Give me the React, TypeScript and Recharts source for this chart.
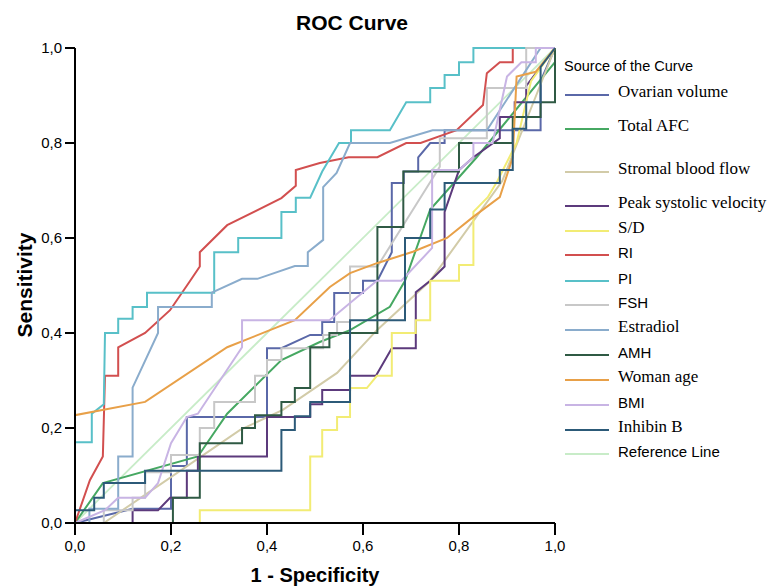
import React from "react";
import { LineChart, Line, XAxis, YAxis } from "recharts";

document.body.style.margin = "0";

type Pt = [number, number];

const ticks = [0, 0.2, 0.4, 0.6, 0.8, 1.0];

const referenceLine: Pt[] = [[0, 0], [1, 1]];

const ovarianVolume: Pt[] = [
  [0, 0], [0.12, 0.03], [0.2, 0.03], [0.2, 0.12], [0.233, 0.12], [0.233, 0.223], [0.4, 0.223],
  [0.4, 0.3], [0.4, 0.368], [0.43, 0.368], [0.49, 0.396], [0.515, 0.396], [0.515, 0.423],
  [0.54, 0.423], [0.54, 0.484], [0.6, 0.484], [0.6, 0.51], [0.63, 0.51], [0.66, 0.57],
  [0.66, 0.716], [0.685, 0.716], [0.685, 0.74], [0.715, 0.74], [0.715, 0.77], [0.74, 0.8],
  [0.77, 0.8], [0.77, 0.827], [0.97, 0.827], [0.97, 0.93], [1, 1],
];

const totalAFC: Pt[] = [
  [0, 0], [0.058, 0.084], [0.256, 0.14], [0.317, 0.23], [0.43, 0.343], [0.51, 0.381],
  [0.573, 0.406], [0.656, 0.455], [0.6875, 0.51], [0.74, 0.66], [0.837, 0.77], [1, 0.97], [1, 1],
];

const stromalBloodFlow: Pt[] = [
  [0, 0], [0.06, 0], [0.344, 0.196], [0.433, 0.238], [0.546, 0.316], [0.629, 0.406],
  [0.74, 0.51], [0.89, 0.72], [1, 1],
];

const peakSystolic: Pt[] = [
  [0, 0], [0.12, 0], [0.12, 0.027], [0.173, 0.027], [0.198, 0.053], [0.233, 0.053],
  [0.233, 0.11], [0.256, 0.11], [0.256, 0.14], [0.4, 0.14], [0.4, 0.223], [0.49, 0.223],
  [0.49, 0.25], [0.515, 0.25], [0.515, 0.28], [0.573, 0.28], [0.573, 0.31], [0.627, 0.31],
  [0.66, 0.368], [0.71, 0.368], [0.71, 0.486], [0.74, 0.51], [0.77, 0.54], [0.77, 0.655],
  [0.8, 0.743], [0.83, 0.77], [0.885, 0.81], [0.885, 0.855], [0.916, 0.855], [0.916, 0.886],
  [0.94, 0.886], [0.94, 0.92], [1, 1],
];

const sdRatio: Pt[] = [
  [0, 0], [0.26, 0], [0.26, 0.027], [0.49, 0.027], [0.49, 0.14], [0.515, 0.14], [0.515, 0.196],
  [0.546, 0.196], [0.546, 0.223], [0.573, 0.223], [0.573, 0.284], [0.608, 0.284], [0.629, 0.31],
  [0.66, 0.31], [0.66, 0.4], [0.71, 0.4], [0.71, 0.427], [0.74, 0.427], [0.74, 0.51],
  [0.8, 0.51], [0.8, 0.543], [0.83, 0.543], [0.83, 0.655], [0.86, 0.686], [0.88, 0.72],
  [0.92, 0.8], [0.95, 0.93], [1, 1],
];

const ri: Pt[] = [
  [0, 0], [0.031, 0.09], [0.058, 0.14], [0.0625, 0.31], [0.09, 0.31], [0.09, 0.37],
  [0.146, 0.4], [0.198, 0.448], [0.24, 0.51], [0.26, 0.54], [0.26, 0.57], [0.317, 0.627],
  [0.43, 0.684], [0.46, 0.71], [0.46, 0.743], [0.51, 0.758], [0.57, 0.77], [0.63, 0.77],
  [0.69, 0.8], [0.72, 0.8], [0.795, 0.827], [0.85, 0.88], [0.858, 0.947], [0.885, 0.97],
  [0.912, 0.97], [0.912, 1], [1, 1],
];

const pi: Pt[] = [
  [0, 0], [0, 0.17], [0.035, 0.17], [0.035, 0.23], [0.06, 0.25], [0.0625, 0.4], [0.09, 0.4],
  [0.09, 0.43], [0.12, 0.43], [0.12, 0.455], [0.15, 0.455], [0.15, 0.485], [0.29, 0.485],
  [0.29, 0.57], [0.34, 0.57], [0.34, 0.6], [0.43, 0.6], [0.43, 0.655], [0.46, 0.655],
  [0.46, 0.685], [0.49, 0.685], [0.515, 0.74], [0.55, 0.8], [0.575, 0.8], [0.575, 0.827],
  [0.656, 0.827], [0.69, 0.886], [0.74, 0.886], [0.74, 0.916], [0.77, 0.916], [0.77, 0.943],
  [0.8, 0.943], [0.8, 0.97], [0.83, 0.97], [0.83, 1], [1, 1],
];

const fsh: Pt[] = [
  [0, 0], [0.06, 0], [0.06, 0.027], [0.12, 0.027], [0.12, 0.053], [0.146, 0.053],
  [0.146, 0.107], [0.2, 0.107], [0.2, 0.143], [0.26, 0.143], [0.26, 0.2], [0.29, 0.2],
  [0.29, 0.255], [0.375, 0.255], [0.375, 0.31], [0.4, 0.31], [0.4, 0.343], [0.43, 0.343],
  [0.43, 0.368], [0.517, 0.368], [0.517, 0.396], [0.546, 0.396], [0.546, 0.423],
  [0.573, 0.423], [0.573, 0.54], [0.63, 0.54], [0.76, 0.75], [0.76, 0.81], [0.858, 0.81],
  [0.858, 0.916], [0.94, 0.916], [0.94, 1], [1, 1],
];

const estradiol: Pt[] = [
  [0, 0], [0.03, 0], [0.03, 0.03], [0.09, 0.03], [0.09, 0.14], [0.12, 0.14], [0.12, 0.285],
  [0.173, 0.4], [0.173, 0.455], [0.285, 0.455], [0.285, 0.485], [0.348, 0.514], [0.38, 0.514],
  [0.458, 0.541], [0.485, 0.541], [0.485, 0.57], [0.517, 0.596], [0.517, 0.707],
  [0.545, 0.737], [0.573, 0.8], [0.656, 0.8], [0.745, 0.827], [0.858, 0.827], [0.97, 1], [1, 1],
];

const amh: Pt[] = [
  [0, 0], [0.204, 0], [0.204, 0.053], [0.26, 0.053], [0.26, 0.168], [0.348, 0.168],
  [0.348, 0.2], [0.375, 0.2], [0.375, 0.227], [0.43, 0.227], [0.43, 0.255], [0.458, 0.255],
  [0.458, 0.284], [0.49, 0.284], [0.49, 0.37], [0.53, 0.37], [0.53, 0.4], [0.63, 0.4],
  [0.63, 0.623], [0.684, 0.623], [0.684, 0.74], [0.8, 0.74], [0.8, 0.8], [0.912, 0.8],
  [0.912, 0.855], [0.97, 0.855], [0.97, 0.886], [1, 0.886], [1, 1],
];

const womanAge: Pt[] = [
  [0, 0], [0, 0.227], [0.146, 0.255], [0.317, 0.37], [0.458, 0.427], [0.531, 0.497],
  [0.573, 0.526], [0.629, 0.547], [0.704, 0.571], [0.775, 0.6], [0.829, 0.644],
  [0.885, 0.686], [0.912, 0.77], [0.92, 0.94], [0.96, 0.95], [1, 1],
];

const bmi: Pt[] = [
  [0, 0], [0.0625, 0.027], [0.09, 0.053], [0.146, 0.053], [0.173, 0.084], [0.2, 0.168],
  [0.233, 0.223], [0.256, 0.23], [0.348, 0.37], [0.348, 0.427], [0.53, 0.427],
  [0.573, 0.463], [0.629, 0.51], [0.68, 0.51], [0.744, 0.579], [0.744, 0.743], [0.8, 0.743],
  [0.83, 0.77], [0.83, 0.8], [0.87, 0.8], [0.9, 0.94], [0.93, 0.97], [0.96, 0.97], [0.96, 1], [1, 1],
];

const inhibinB: Pt[] = [
  [0, 0], [0, 0.027], [0.04, 0.027], [0.04, 0.053], [0.06, 0.053], [0.06, 0.084],
  [0.146, 0.084], [0.146, 0.11], [0.43, 0.11], [0.43, 0.196], [0.458, 0.196], [0.458, 0.225],
  [0.49, 0.225], [0.49, 0.255], [0.573, 0.255], [0.573, 0.427], [0.6875, 0.427],
  [0.6875, 0.6], [0.74, 0.6], [0.74, 0.66], [0.77, 0.66], [0.77, 0.716], [0.885, 0.716],
  [0.885, 0.743], [0.912, 0.743], [0.912, 0.83], [0.94, 0.83], [0.94, 0.886], [0.97, 0.886],
  [0.97, 0.96], [1, 1],
];

const SERIF = '"Liberation Serif", "Times New Roman", serif';
const SANS = '"Liberation Sans", Arial, sans-serif';

const series = [
  { name: "Ovarian volume", data: ovarianVolume, color: "#5a68a8", font: SERIF, y: 92 },
  { name: "Total AFC", data: totalAFC, color: "#46a862", font: SERIF, y: 126 },
  { name: "Stromal blood flow", data: stromalBloodFlow, color: "#d2cba8", font: SERIF, y: 169 },
  { name: "Peak systolic velocity", data: peakSystolic, color: "#5c3a7c", font: SERIF, y: 203 },
  { name: "S/D", data: sdRatio, color: "#f2ec74", font: SERIF, y: 228 },
  { name: "RI", data: ri, color: "#d24f4f", font: SANS, y: 252 },
  { name: "PI", data: pi, color: "#58c0c8", font: SANS, y: 278 },
  { name: "FSH", data: fsh, color: "#c8c8c8", font: SANS, y: 302 },
  { name: "Estradiol", data: estradiol, color: "#8aaccc", font: SERIF, y: 327 },
  { name: "AMH", data: amh, color: "#2f5a44", font: SANS, y: 352 },
  { name: "Woman age", data: womanAge, color: "#e8a048", font: SERIF, y: 377 },
  { name: "BMI", data: bmi, color: "#c8b4e4", font: SANS, y: 402 },
  { name: "Inhibin B", data: inhibinB, color: "#2c5a78", font: SERIF, y: 427 },
];

const ref = { name: "Reference Line", data: referenceLine, color: "#c8ecc8", font: SANS, y: 451 };

const toRows = (pts: Pt[]) => pts.map(([x, y]) => ({ x, y }));
const fmt = (v: number) => v.toFixed(1).replace(".", ",");

export default function App() {
  return (
    <div style={{ position: "relative", width: 770, height: 588, background: "#fff", fontFamily: SANS }}>
      <LineChart width={770} height={588} margin={{ top: 48, right: 215, bottom: 35, left: 30 }}>
        <XAxis
          xAxisId="top"
          orientation="top"
          type="number"
          domain={[0, 1]}
          height={0}
          tick={false}
          tickLine={false}
          axisLine={{ stroke: "#000", strokeWidth: 1.5 }}
        />
        <YAxis
          yAxisId="right"
          orientation="right"
          type="number"
          domain={[0, 1]}
          width={0}
          tick={false}
          tickLine={false}
          axisLine={{ stroke: "#000", strokeWidth: 1.5 }}
        />
        <XAxis
          dataKey="x"
          type="number"
          domain={[0, 1]}
          ticks={ticks}
          tickFormatter={fmt}
          height={30}
          tickSize={12}
          tickMargin={5}
          tick={{ fill: "#000", fontSize: 15 }}
          tickLine={{ stroke: "#000", strokeWidth: 2 }}
          axisLine={{ stroke: "#000", strokeWidth: 2 }}
        />
        <YAxis
          type="number"
          domain={[0, 1]}
          ticks={ticks}
          tickFormatter={fmt}
          width={45}
          tickSize={10}
          tickMargin={3}
          tick={{ fill: "#000", fontSize: 15 }}
          tickLine={{ stroke: "#000", strokeWidth: 2 }}
          axisLine={{ stroke: "#000", strokeWidth: 2 }}
        />
        <Line
          data={toRows(ref.data)}
          dataKey="y"
          type="linear"
          stroke={ref.color}
          strokeWidth={1.8}
          dot={false}
          isAnimationActive={false}
        />
        {series.map((s) => (
          <Line
            key={s.name}
            data={toRows(s.data)}
            dataKey="y"
            name={s.name}
            type="linear"
            stroke={s.color}
            strokeWidth={2}
            dot={false}
            isAnimationActive={false}
          />
        ))}
      </LineChart>

      <div style={{ position: "absolute", left: 0, width: 704, top: 11, textAlign: "center", fontWeight: "bold", fontSize: 21 }}>
        ROC Curve
      </div>
      <div style={{ position: "absolute", left: 75, width: 480, top: 564, textAlign: "center", fontWeight: "bold", fontSize: 20 }}>
        1 - Specificity
      </div>
      <div
        style={{
          position: "absolute",
          left: 25,
          top: 285,
          transform: "translate(-50%, -50%) rotate(-90deg)",
          fontWeight: "bold",
          fontSize: 21,
          whiteSpace: "nowrap",
        }}
      >
        Sensitivity
      </div>

      <div style={{ position: "absolute", left: 564, top: 58, fontSize: 14.5, fontFamily: SANS }}>
        Source of the Curve
      </div>
      {[...series, ref].map((s) => (
        <div key={s.name} style={{ position: "absolute", left: 565, top: s.y - 10, height: 20, display: "flex", alignItems: "center" }}>
          <div style={{ width: 44, height: 2, background: s.color, marginTop: 6 }} />
          <span style={{ marginLeft: 9, fontFamily: s.font, fontSize: s.font === SERIF ? 17 : 15, whiteSpace: "nowrap" }}>
            {s.name}
          </span>
        </div>
      ))}
    </div>
  );
}
